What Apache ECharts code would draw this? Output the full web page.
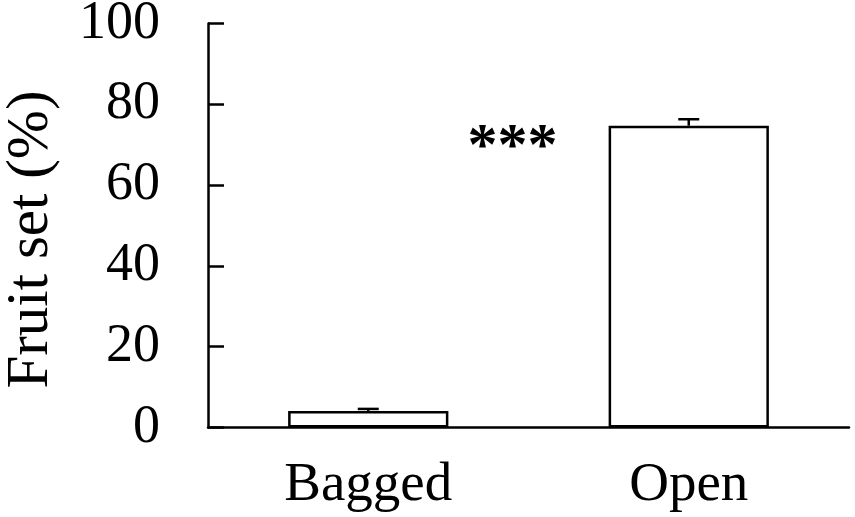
<!DOCTYPE html>
<html lang="en">
<head>
<meta charset="UTF-8">
<title>Fruit set</title>
<style>
html, body { margin: 0; padding: 0; background: #fff; }
#chart { width: 855px; height: 517px; }
</style>
</head>
<body>
<div id="chart"></div>
<script src="https://cdn.jsdelivr.net/npm/echarts@6/dist/echarts.min.js"></script>
<script>
var categories = ['Bagged', 'Open'];
var means = [4.1, 74.7];
var upperErr = [4.6, 76.3];
var yTicks = [0, 20, 40, 60, 80, 100];
var sigText = '***';
var sigPos = [0.45, 69.0]; // category index, value

var serif = '"Liberation Serif", "Times New Roman", serif';
var chart = echarts.init(document.getElementById('chart'));

var option = {
    animation: false,
    grid: { left: 208, right: 6, top: 23.5, bottom: 89.5, containLabel: false, outerBoundsMode: 'none' },
    xAxis: [{
        type: 'category',
        data: categories,
        axisLine: { lineStyle: { color: '#000', width: 2.5 } },
        axisTick: { inside: true, length: 16, lineStyle: { color: '#000', width: 2.5 } },
        axisLabel: { color: '#000', fontFamily: serif, fontSize: 55, margin: 31 }
    }, {
        type: 'value', min: -0.5, max: 1.5, show: false
    }],
    yAxis: {
        type: 'value',
        min: yTicks[0],
        max: yTicks[yTicks.length - 1],
        interval: 20,
        name: 'Fruit set (%)',
        nameLocation: 'middle',
        nameGap: 147,
        nameTextStyle: { color: '#000', fontFamily: serif, fontSize: 59, padding: [0, 28, 0, 0] },
        axisLine: { show: true, onZero: false, lineStyle: { color: '#000', width: 2.5 } },
        axisTick: { show: true, inside: true, length: 16, lineStyle: { color: '#000', width: 2.5 } },
        axisLabel: { color: '#000', fontFamily: serif, fontSize: 54, margin: 48 },
        splitLine: { show: false }
    },
    series: [{
        type: 'bar',
        data: means,
        barWidth: '50%',
        itemStyle: { color: '#fff', borderColor: '#000', borderWidth: 2.5 },
        z: 2
    }, {
        type: 'custom',
        data: means.map(function (m, i) { return [i, m, upperErr[i]]; }),
        renderItem: function (params, api) {
            var base = api.coord([api.value(0), api.value(1)]);
            var top = api.coord([api.value(0), api.value(2)]);
            var hw = 10.5;
            var st = { stroke: '#000', lineWidth: 2.5 };
            return {
                type: 'group',
                children: [
                    { type: 'line', shape: { x1: base[0], y1: base[1], x2: top[0], y2: top[1] }, style: st },
                    { type: 'line', shape: { x1: top[0] - hw, y1: top[1], x2: top[0] + hw, y2: top[1] }, style: st }
                ]
            };
        },
        z: 3
    }, {
        type: 'scatter',
        xAxisIndex: 1,
        data: [sigPos],
        symbolSize: 0,
        itemStyle: { opacity: 1 },
        label: {
            show: true,
            position: 'inside',
            formatter: sigText,
            color: '#000',
            fontFamily: serif,
            fontWeight: 'bold',
            fontSize: 60
        }
    }]
};
chart.setOption(option);
</script>
</body>
</html>
